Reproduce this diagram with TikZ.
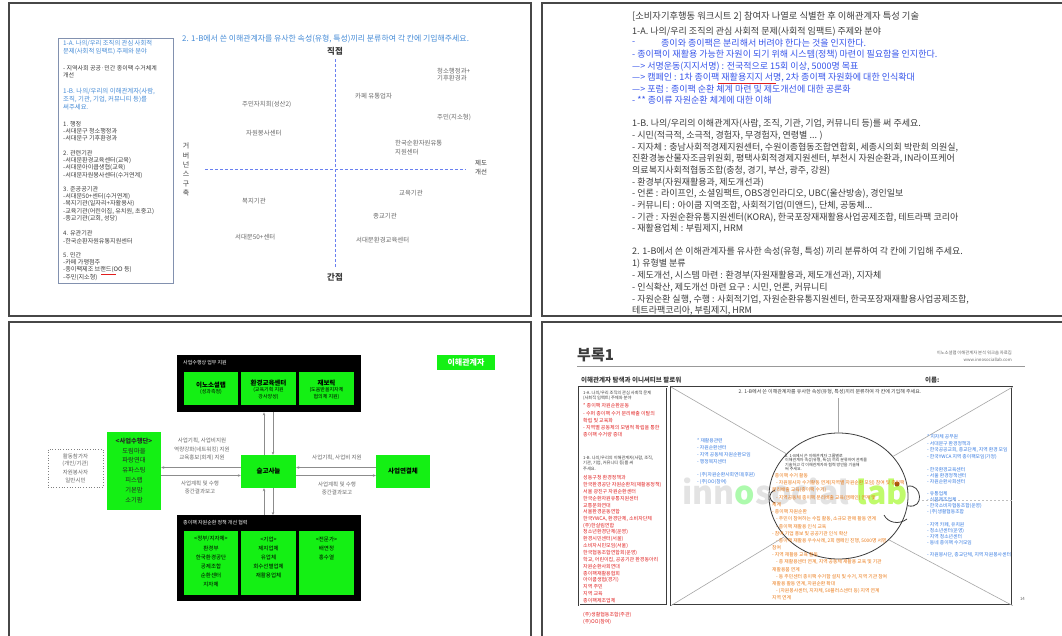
\documentclass[tikz,border=0pt]{standalone}
\usepackage{fontspec}
\setmainfont{Noto Sans CJK KR}
\usetikzlibrary{arrows.meta,shapes.geometric}
\definecolor{pblue}{RGB}{70,140,215}
\definecolor{ptblue}{RGB}{55,85,235}
\definecolor{lgreen}{RGB}{20,240,20}
\definecolor{rtxt}{RGB}{225,30,30}
\definecolor{otxt}{RGB}{235,120,20}
\definecolor{btxt}{RGB}{50,120,225}
\definecolor{dgrey}{RGB}{60,60,60}
\definecolor{mgrey}{RGB}{105,105,105}
\definecolor{bgrey}{RGB}{130,145,175}
\newcommand\txtlines[6]{\foreach \t [count=\i from 0] in {#6}{\node[#5] (#1\i) at (#2,{#3+\i*#4}) {\t};}}
\begin{document}
\begin{tikzpicture}[x=1pt,y=-1pt,
  tx/.style={inner sep=0pt,anchor=west},
  fs/.style={font=\fontsize{#1}{#1}\selectfont},
  panel/.style={draw=black!72,line width=1.3pt},
  axisline/.style={draw=ptblue!75,dash pattern=on 3pt off 2pt,line width=0.9pt},
  gbox/.style={fill=lgreen,inner sep=0pt},
  bbox/.style={fill=black,inner sep=0pt,anchor=north west},
  arr/.style={draw=black!45,line width=0.7pt,-{Stealth[length=3pt,width=2.6pt]}},
  diag/.style={draw=black!35,line width=0.6pt},
  ]
\useasboundingbox (0,0) rectangle (1062,635);
\fill[white] (0,0) rectangle (1062,635);
\draw[panel] (9,3) rectangle (531,316);
\draw[panel] (542,3) rectangle (1075,316);
\draw[panel] (9,322) rectangle (531,645);
\draw[panel] (542,322) rectangle (1075,645);

% ---------------- panel 1 ----------------
\node[draw=bgrey,line width=0.8pt,minimum width=115pt,minimum height=245pt,anchor=north west,inner sep=0] (p1box) at (58,38) {};
\txtlines{p1a}{63}{43}{8.5}{tx,fs=6.3,text=pblue}{{1-A. 나의/우리 조직의 관심 사회적},{문제(사회적 임팩트) 주제와 분야}}
\txtlines{p1b}{63}{68}{7.3}{tx,fs=6,text=dgrey}{{- 지역사회 공공·민간 종이팩 수거체계},{개선}}
\txtlines{p1c}{63}{91}{8}{tx,fs=6.4,text=pblue}{{1-B. 나의/우리의 이해관계자(사람,},{조직, 기관, 기업, 커뮤니티 등)를},{써주세요.}}
\txtlines{p1d}{63}{124}{7.2}{tx,fs=6.1,text=dgrey}{{1. 행정},{-서대문구 청소행정과},{-서대문구 기후환경과}}
\txtlines{p1e}{63}{153}{7.4}{tx,fs=6.1,text=dgrey}{{2. 관련기관},{-서대문환경교육센터(교육)},{-서대문아이쿱생협(교육)},{-서대문자원봉사센터(수거연계)}}
\txtlines{p1f}{63}{189}{7.5}{tx,fs=6.1,text=dgrey}{{3. 준공공기관},{-서대문50+센터(수거연계)},{-복지기관(일자리+자활용사)},{-교육기관(어린이집, 유치원, 초중고)},{-종교기관(교회, 성당)}}
\txtlines{p1g}{63}{233}{8}{tx,fs=6.1,text=dgrey}{{4. 유관기관},{-한국순환자원유통지원센터}}
\txtlines{p1h}{63}{255}{7.4}{tx,fs=6.1,text=dgrey}{{5. 민간},{-카페 가맹점주},{-종이팩제조 브랜드(OO 등)},{-주민(지소형)}}
\coordinate (p1u1) at (101,274.5); \coordinate (p1u2) at (116,274.5);
\draw[rtxt,line width=0.5pt] (p1u1) -- (p1u2);

\node[tx,fs=7.9,text=pblue] (p1title) at (182,39) {2. 1-B에서 쓴 이해관계자를 유사한 속성(유형, 특성)끼리 분류하여 각 칸에 기입해주세요.};
\coordinate (axtop) at (335,59); \coordinate (axbot) at (335,268);
\coordinate (axl) at (205,169); \coordinate (axr) at (466,169);
\draw[axisline] (axtop) -- (axbot);
\draw[axisline] (axl) -- (axr);
\node[inner sep=0,fs=8.5,text=dgrey] (p1dir) at (335,51) {\bfseries 직접};
\node[inner sep=0,fs=8.5,text=dgrey] (p1ind) at (335,277) {\bfseries 간접};
\node[inner sep=0,align=center,font=\fontsize{7}{9.4}\selectfont,text=dgrey] (p1gov) at (186,169.5) {거\\버\\넌\\스\\구\\축};
\node[inner sep=0,align=center,font=\fontsize{6.5}{9.5}\selectfont,text=dgrey] (p1rule) at (481,167.5) {제도\\개선};
\node[tx,fs=6.4,text=mgrey] (q1) at (437,71) {청소행정과+};
\node[tx,fs=6.4,text=mgrey] (q2) at (437,78) {기후환경과};
\node[tx,fs=6.4,text=mgrey] (q3) at (355,96) {카페 유통업자};
\node[tx,fs=6.4,text=mgrey] (q4) at (242,104) {주민자치회(성산2)};
\node[tx,fs=6.4,text=mgrey] (q5) at (246,133) {자원봉사센터};
\node[tx,fs=6.4,text=mgrey] (q6) at (437,117) {주민(지소형)};
\node[tx,fs=6.4,text=mgrey] (q7) at (395,143) {한국순환자원유통};
\node[tx,fs=6.4,text=mgrey] (q8) at (395,152) {지원센터};
\node[tx,fs=6.4,text=mgrey] (q9) at (399,193) {교육기관};
\node[tx,fs=6.4,text=mgrey] (q10) at (242,201) {복지기관};
\node[tx,fs=6.4,text=mgrey] (q11) at (373,216) {종교기관};
\node[tx,fs=6.4,text=mgrey] (q12) at (235,237) {서대문50+센터};
\node[tx,fs=6.4,text=mgrey] (q13) at (356,240) {서대문환경교육센터};

% ---------------- panel 2 ----------------
\node[tx,fs=9.3,text=dgrey] (p2title) at (632,16) {[소비자기후행동 워크시트 2] 참여자 나열로 식별한 후 이해관계자 특성 기술};
\node[tx,fs=9,text=dgrey] (p2a) at (632,32) {1-A. 나의/우리 조직의 관심 사회적 문제(사회적 임팩트) 주제와 분야};
\node[tx,fs=9,text=ptblue] (p2b0) at (632,43) {-};
\node[tx,fs=9,text=ptblue] (p2b1) at (661,43) {종이와 종이팩은 분리해서 버려야 한다는 것을 인지한다.};
\txtlines{p2c}{632}{55}{11.25}{tx,fs=9,text=ptblue}{{- 종이팩이 재활용 가능한 자원이 되기 위해 시스템(정책) 마련이 필요함을 인지한다.},{---> 서명운동(지지서명) : 전국적으로 15회 이상, 5000명 목표},{---> 캠페인 : 1차 종이팩 재활용지지 서명, 2차 종이팩 자원화에 대한 인식확대},{---> 포럼 : 종이팩 순환 체계 마련 및 제도개선에 대한 공론화},{- ** 종이류 자원순환 체계에 대한 이해}}
\coordinate (p2u1) at (718,83.5); \coordinate (p2u2) at (776,83.5);
\draw[rtxt,line width=0.6pt] (p2u1) -- (p2u2);
\txtlines{p2d}{632}{124}{11.67}{tx,fs=9,text=dgrey}{{1-B. 나의/우리의 이해관계자(사람, 조직, 기관, 기업, 커뮤니티 등)를 써 주세요.},{- 시민(적극적, 소극적, 경험자, 무경험자, 연령별 .{}.{}. )},{- 지자체 : 충남사회적경제지원센터, 수원이종협동조합연합회, 세종시의회 박란희 의원실,},{진환경농산물자조금위원회, 평택사회적경제지원센터, 부천시 자원순환과, IN라이프케어},{의료복지사회적협동조합(충청, 경기, 부산, 광주, 강원)},{- 환경부(자원재활용과, 제도개선과)},{- 언론 : 라이프인, 소셜임팩트, OBS경인라디오, UBC(울산방송), 경인일보},{- 커뮤니티 : 아이쿱 지역조합, 사회적기업(미앤드), 단체, 공동체.{}.{}.},{- 기관 : 자원순환유통지원센터(KORA), 한국포장재재활용사업공제조합, 테트라팩 코리아},{- 재활용업체 : 부림제지, HRM}}
\txtlines{p2e}{632}{252}{11.8}{tx,fs=9,text=dgrey}{{2. 1-B에서 쓴 이해관계자를 유사한 속성(유형, 특성) 끼리 분류하여 각 칸에 기입해 주세요.},{1) 유형별 분류},{- 제도개선, 시스템 마련 : 환경부(자원재활용과, 제도개선과), 지자체},{- 인식확산, 제도개선 마련 요구 : 시민, 언론, 커뮤니티},{- 자원순환 실행, 수행 : 사회적기업, 자원순환유통지원센터, 한국포장재재활용사업공제조합,},{테트라팩코리아, 부림제지, HRM}}

% ---------------- panel 3 ----------------
\node[bbox,minimum width=184pt,minimum height=57pt] (topbox) at (177,355) {};
\node[tx,fs=5,text=white] (toptitle) at (183,363) {사업수행상 업무 지원};
\node[gbox,minimum width=54pt,minimum height=33pt] (tg1) at (211,388.5) {};
\node[gbox,minimum width=55pt,minimum height=33pt] (tg2) at (268.5,388.5) {};
\node[gbox,minimum width=55pt,minimum height=33pt] (tg3) at (326.5,388.5) {};
\node[inner sep=0,fs=6.5] (tg1a) at (211,385) {\bfseries 이노소셜랩};
\node[inner sep=0,fs=5] (tg1b) at (211,392) {(성과측정)};
\node[inner sep=0,fs=6.5] (tg2a) at (268.5,383) {\bfseries 환경교육센터};
\node[inner sep=0,fs=5] (tg2b) at (268.5,390) {(교육기획 지원};
\node[inner sep=0,fs=5] (tg2c) at (268.5,397) {강사양성)};
\node[inner sep=0,fs=6.5] (tg3a) at (326.5,383) {\bfseries 재보릭};
\node[inner sep=0,fs=5] (tg3b) at (326.5,390) {(도움받을지자체};
\node[inner sep=0,fs=5] (tg3c) at (326.5,397) {협의체 지원)};

\node[gbox,minimum width=58pt,minimum height=15pt,text=white,font=\fontsize{8}{8}\selectfont\bfseries] (stake) at (466,362.5) {이해관계자};

\node[gbox,minimum width=54pt,minimum height=78pt] (exec) at (134,471) {};
\txtlines{exect}{134}{441}{9.8}{inner sep=0,fs=6.3,text=black!85}{{\bfseries <사업수행단>},{도림마을},{파랑연대},{유파스팅},{피스랩},{기본맘},{소기팜}}
\node[draw=black!50,dotted,line width=0.7pt,minimum width=55pt,minimum height=38pt,inner sep=0] (part) at (75.5,468) {};
\txtlines{partt}{75.5}{456}{8}{inner sep=0,fs=5.5,text=mgrey}{{활동참가자},{(개인/기관)},{자원봉사자},{일반시민}}

\node[gbox,minimum width=55pt,minimum height=33pt,font=\fontsize{6.5}{6.5}\selectfont\bfseries] (ctr) at (268.5,471.5) {슬고사늘};
\node[gbox,minimum width=54pt,minimum height=33pt,font=\fontsize{6.5}{6.5}\selectfont\bfseries] (conn) at (403,471.5) {사업연결체};

\node[bbox,minimum width=184pt,minimum height=86pt] (botbox) at (177,515) {};
\node[tx,fs=5,text=white] (bottitle) at (183,523) {종이팩 자원순환 정책 개선 협력};
\node[gbox,minimum width=54pt,minimum height=64pt] (bg1) at (211,563) {};
\node[gbox,minimum width=55pt,minimum height=64pt] (bg2) at (268.5,563) {};
\node[gbox,minimum width=55pt,minimum height=64pt] (bg3) at (326.5,563) {};
\txtlines{bg1t}{211}{539}{9}{inner sep=0,fs=5.5}{{<정부/지자체>},{환경부},{한국환경공단},{공제조합},{순환센터},{지자체}}
\txtlines{bg2t}{268.5}{539}{9}{inner sep=0,fs=5.5}{{<기업>},{제지업체},{유업체},{회수선별업체},{재활용업체}}
\txtlines{bg3t}{326.5}{539}{9}{inner sep=0,fs=5.5}{{<전문가>},{배연정},{홍수열}}

\coordinate (vt1) at ([xshift=-4.5pt]ctr.north); \coordinate (vt1e) at (vt1 |- topbox.south);
\coordinate (vt2) at ([xshift=4.5pt]ctr.north); \coordinate (vt2e) at (vt2 |- topbox.south);
\coordinate (vb1) at ([xshift=-4.5pt]ctr.south); \coordinate (vb1e) at (vb1 |- botbox.north);
\coordinate (vb2) at ([xshift=4.5pt]ctr.south); \coordinate (vb2e) at (vb2 |- botbox.north);
\draw[arr] (vt1) -- (vt1e);
\draw[arr] (vt2e) -- (vt2);
\draw[arr] (vb1e) -- (vb1);
\draw[arr] (vb2) -- (vb2e);
\coordinate (hl1) at ([yshift=4pt]ctr.west); \coordinate (hl1e) at (hl1 -| exec.east);
\coordinate (hl2) at ([yshift=-4pt]ctr.west); \coordinate (hl2e) at (hl2 -| exec.east);
\coordinate (hr1) at ([yshift=4pt]ctr.east); \coordinate (hr1e) at (hr1 -| conn.west);
\coordinate (hr2) at ([yshift=-4pt]ctr.east); \coordinate (hr2e) at (hr2 -| conn.west);
\draw[arr] (hl1) -- (hl1e);
\draw[arr] (hl2e) -- (hl2);
\draw[arr] (hr1e) -- (hr1);
\draw[arr] (hr2) -- (hr2e);
\txtlines{lbla}{202}{441}{8.5}{inner sep=0,fs=5.5,text=mgrey}{{사업기획, 사업비지원},{역량강화(네트워킹) 지원},{교육홍보(회계) 지원}}
\txtlines{lblb}{200}{483}{8}{inner sep=0,fs=5.5,text=mgrey}{{사업계획 및 수행},{중간결과보고}}
\node[inner sep=0,fs=5.5,text=mgrey] (lblc) at (337,458) {사업기획, 사업비 지원};
\txtlines{lbld}{337}{484}{8}{inner sep=0,fs=5.5,text=mgrey}{{사업계획 및 수행},{중간결과보고}}

% ---------------- panel 4 ----------------
\node[inner sep=0,font=\fontsize{32}{32}\selectfont\bfseries,text=black!11] (wm) at (795,491) {inn\textcolor{lgreen!35}{o}social \textcolor{lgreen!45!yellow!60}{lab}};
\node[tx,fs=15,text=dgrey] (appx) at (577,355) {\bfseries 부록1};
\node[anchor=east,inner sep=0,fs=4.3,text=mgrey] (hdr1) at (1012,353) {이노소셜랩 이해관계자 분석 워크숍 자료집};
\node[anchor=east,inner sep=0,fs=4.3,text=mgrey] (hdr2) at (1012,360) {www.innosociallab.com};
\coordinate (hra) at (577,366); \coordinate (hrb) at (1025,366);
\draw[black!40,line width=0.8pt] (hra) -- (hrb);
\node[tx,fs=6.5,text=dgrey] (p4sub) at (581,380) {\bfseries 이해관계자 탐색과 이니셔티브 팔로워};
\node[tx,fs=6.5,text=dgrey] (p4name) at (925,380) {\bfseries 이름:};

\node[draw=dgrey,line width=0.6pt,double,double distance=1pt,minimum width=88pt,minimum height=218pt,anchor=north west,inner sep=0] (lbox) at (579,387) {};
\node[draw=dgrey,line width=0.6pt,double,double distance=1pt,minimum width=341pt,minimum height=218pt,anchor=north west,inner sep=0] (mbox) at (671,387) {};

\node[draw=dgrey,line width=0.8pt,ellipse,minimum width=139pt,minimum height=126pt,inner sep=0] (head) at (838.5,496) {};
\draw[diag] (mbox.north west) -- (head.141);
\draw[diag] (mbox.north east) -- (head.36);
\draw[diag] (mbox.south west) -- (head.217);
\draw[diag] (mbox.south east) -- (head.-41);
\coordinate (vtop) at (838.5,398);
\draw[diag] (vtop) -- (head.north);
\coordinate (dla) at (922,500); \coordinate (dlb) at (1012,500);
\draw[black!25,dash pattern=on 2pt off 2pt,line width=0.5pt] (dla) -- (dlb);
\draw[dgrey,line width=0.8pt] (head.8) .. controls (922,483) and (925,510) .. (head.-8);
\coordinate (ln1) at (775,490); \coordinate (ln2) at (775,503);
\draw[dgrey,line width=0.8pt] (ln1) .. controls (768,493) and (768,500) .. (ln2);
\coordinate (cv1) at (884,515); \coordinate (cv2) at (907,519);
\draw[dgrey,line width=0.8pt] (cv1) .. controls (888,523) and (899,525) .. (cv2);
\fill[otxt!70!black] (897,484) circle[radius=2.5pt];

\node[inner sep=0,fs=5,text=dgrey] (mtop) at (830,392) {2. 1-B에서 쓴 이해관계자를 유사한 속성(유형, 특성)끼리 분류하여 각 칸에 기입해 주세요.};
\node[anchor=east,inner sep=0,fs=4.3,text=mgrey] (pgno) at (1025,599) {14};

\txtlines{lb1}{583}{393}{5}{tx,fs=4.2,text=dgrey}{{1-A. 나의/우리 조직의 관심 사회적 문제},{(사회적 임팩트) 주제와 분야}}
\txtlines{lb2}{583}{406}{7.2}{tx,fs=5,text=rtxt}{{* 종이팩 자원순환운동},{- 수퍼 종이팩 수거 분리배출 이탈의},{확립 및 교육화},{- 지역별 공동체의 모범적 확립을 통한},{종이팩 수거량 증대}}
\txtlines{lb3}{583}{458}{5.5}{tx,fs=4.2,text=dgrey}{{1-B. 나의/우리의 이해관계자(사람, 조직,},{기관, 기업, 커뮤니티 등)를 써},{주세요.}}
\txtlines{lb4}{583}{478}{6.8}{tx,fs=5,text=rtxt}{{성동구청 환경정책과},{한국환경공단 자원순환처(재활용정책)},{서울 광진구 자원순환센터},{한국순환자원유통지원센터},{교통문화연대},{서울환경운동연합},{한국YWCA, 환경단체, 소비자단체},{(주)한살림연합},{청소년환경단체(운영)},{환경시민센터(서울)},{소비자시민모임(서울)},{한국협동조합연합회(운영)},{학교, 어린이집, 공공기관 환경동아리},{자원순환사회연대},{종이팩재활용협회},{아이쿱생협(경기)},{지역 주민},{지역 교육},{종이팩제조업체}}
\txtlines{lb5}{583}{615}{6.5}{tx,fs=5,text=rtxt}{{(주)생활협동조합(주관)},{(주)OO(참여)}}

\txtlines{bl1}{697}{441}{7}{tx,fs=4.8,text=btxt}{{* 재활용관련},{- 자원순환센터},{- 지역 공동체 자원순환모임},{- 행정복지센터}}
\txtlines{bl2}{697}{475}{7}{tx,fs=4.8,text=btxt}{{- (주)자원순환사회연대(후원)},{- (주)OO(참여)}}
\txtlines{br1}{927}{437}{6.6}{tx,fs=4.8,text=btxt}{{* 지자체 공무원},{- 서대문구 환경정책과},{- 한국공공교회, 종교단체, 지역 환경 모임},{- 한국YWCA 지역 종이팩모임(가정)}}
\txtlines{br2}{927}{470}{6}{tx,fs=4.8,text=btxt}{{- 한국환경교육센터},{- 서울 환경정책센터},{- 자원순환사회센터}}
\txtlines{br3}{927}{494}{6}{tx,fs=4.8,text=btxt}{{- 유통업체},{- 식품제조업체},{- 한국소비자협동조합(운영)},{- (주)생활협동조합}}
\txtlines{br4}{927}{525}{6}{tx,fs=4.8,text=btxt}{{- 지역 카페, 유치원},{- 청소년센터(운영)},{- 지역 청소년센터},{- 동네 종이팩 수거모임}}
\node[tx,fs=4.8,text=btxt] (br5) at (927,555) {- 자원봉사단, 종교단체, 지역 자원봉사센터};

\txtlines{ck}{785}{456}{4.3}{tx,fs=4,text=dgrey}{{2. 1-B에서 쓴 이해관계자 그룹별로},{이해관계자 속성(유형, 특성) 끼리 분류하여 관계를},{기술하고 각 이해관계자와 협력 방안을 기술해},{써 주세요.}}
\txtlines{or}{772}{476}{7.18}{tx,fs=4.8,text=otxt}{{- 종이팩 수거 활동},{\hspace*{4pt}- 자원봉사자 수거활동 연계(지역별 자원순환 모임) 참여 및 종이팩},{분리배출 교육(종이팩 수거)},{\hspace*{4pt}- 지역공동체 종이팩 분리배출 교육(캠페인) 연계 및},{체계},{- 종이팩 자원순환},{\hspace*{4pt}- 주민이 참여하는 수집 활동, 소규모 판매 활동 연계},{\hspace*{4pt}- 종이팩 재활용 인식 교육},{- 참여 기업 홍보 및 공공기관 인식 확산},{\hspace*{4pt}- 종이팩 재활용 우수사례, 2회 캠페인 진행, 5000명 서명},{참여},{- 지역 재활용 교육 활동},{\hspace*{4pt}- 종 재활용센터 연계, 지역 공동체 재활용 교육 및 기관},{재활용품 연계},{\hspace*{4pt}- 동 주민센터 종이팩 수거함 설치 및 수거, 지역 기관 참여},{재활용 활동 연계, 자원순환 확대},{\hspace*{4pt}- (자원봉사센터, 지자체, 50플러스센터 등) 지역 연계},{지역 연계}}
\end{tikzpicture}
\end{document}
